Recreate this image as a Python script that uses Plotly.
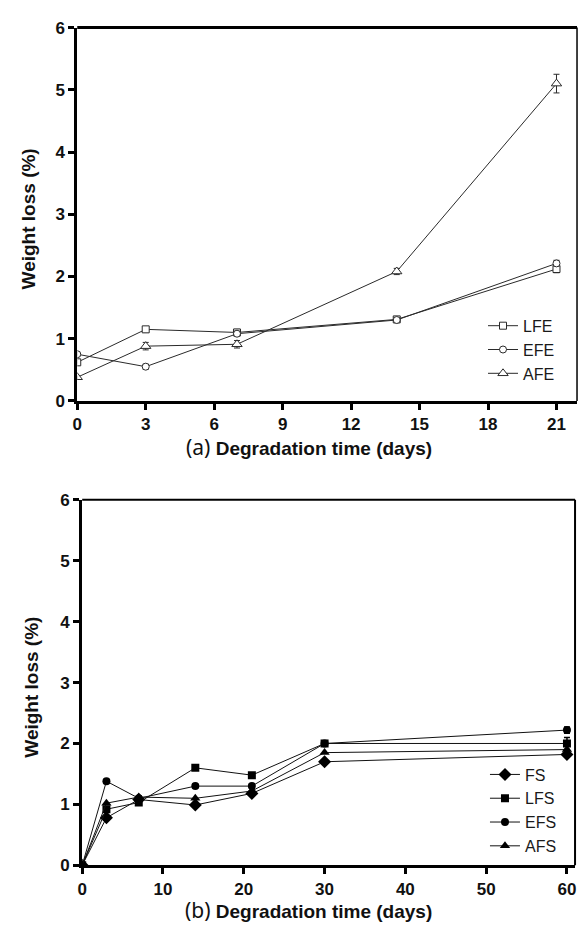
import plotly.graph_objects as go

# ---- Data: panel (a) ----
days_a = [0, 3, 7, 14, 21]
lfe = [0.62, 1.15, 1.10, 1.31, 2.12]
efe = [0.75, 0.55, 1.08, 1.30, 2.21]
afe = [0.38, 0.88, 0.91, 2.08, 5.10]
lfe_err = [0.03, 0.04, 0.05, 0.04, 0.06]
efe_err = [0.03, 0.04, 0.04, 0.04, 0.05]
afe_err = [0.02, 0.06, 0.06, 0.05, 0.15]

# ---- Data: panel (b) ----
days_b = [0, 3, 7, 14, 21, 30, 60]
fs = [0.0, 0.78, 1.08, 0.99, 1.18, 1.70, 1.82]
lfs = [0.0, 0.92, 1.03, 1.60, 1.48, 2.00, 2.00]
efs = [0.0, 1.38, 1.10, 1.30, 1.30, 2.00, 2.22]
afs = [0.0, 1.02, 1.12, 1.10, 1.22, 1.85, 1.90]
lfs_err = [0.0, 0.03, 0.03, 0.03, 0.03, 0.04, 0.10]
efs_err = [0.0, 0.03, 0.03, 0.03, 0.03, 0.03, 0.05]

x_ticks_a = [0, 3, 6, 9, 12, 15, 18, 21]
x_ticks_b = [0, 10, 20, 30, 40, 50, 60]
y_ticks = [0, 1, 2, 3, 4, 5, 6]

W, H = 580, 938
def px_x(p):
    return p / W
def px_y(p):
    return 1 - p / H

LINE_A = "#2a2a2a"
FONT = "Liberation Sans, Arial, sans-serif"

fig = go.Figure()

def open_trace(name, y, err, symbol, size):
    fig.add_trace(go.Scatter(
        x=days_a, y=y, name=name, mode="lines+markers",
        line=dict(color=LINE_A, width=1),
        marker=dict(symbol=symbol, size=size, color="white",
                    line=dict(color=LINE_A, width=1)),
        error_y=dict(type="data", array=err, visible=True, color=LINE_A,
                     thickness=1, width=3),
        xaxis="x", yaxis="y", legend="legend"))

open_trace("LFE", lfe, lfe_err, "square", 7)
open_trace("EFE", efe, efe_err, "circle", 7)
open_trace("AFE", afe, afe_err, "triangle-up", 9)

def filled_trace(name, y, err, symbol, size):
    fig.add_trace(go.Scatter(
        x=days_b, y=y, name=name, mode="lines+markers",
        line=dict(color="#111", width=1),
        marker=dict(symbol=symbol, size=size, color="black"),
        error_y=dict(type="data", array=err, visible=True,
                     color="black", thickness=1.5, width=3) if err else None,
        xaxis="x2", yaxis="y2", legend="legend2"))

filled_trace("FS", fs, None, "diamond", 10)
filled_trace("LFS", lfs, lfs_err, "square", 8)
filled_trace("EFS", efs, efs_err, "circle", 8)
filled_trace("AFS", afs, None, "triangle-up", 9)

tickfont = dict(family=FONT, size=17, color="#111", weight="bold")
axis_common = dict(showline=True, linecolor="black", linewidth=3,
                   ticks="outside", ticklen=6, tickwidth=2.5, tickcolor="black",
                   showgrid=False, zeroline=False, tickfont=tickfont)

# panel geometry in pixels
a_l, a_r, a_t, a_b = 73, 578, 19, 400
b_l, b_r, b_t, b_b = 78, 576, 501, 874

fig.update_layout(
    width=W, height=H,
    margin=dict(l=0, r=0, t=0, b=0),
    paper_bgcolor="white", plot_bgcolor="white",
    xaxis=dict(domain=[px_x(a_l), px_x(a_r)], range=[0, 21.9],
               tickvals=x_ticks_a, anchor="y", **axis_common),
    yaxis=dict(domain=[px_y(a_b), px_y(a_t)], range=[0, 6],
               tickvals=y_ticks, anchor="x", **axis_common),
    xaxis2=dict(domain=[px_x(b_l), px_x(b_r)], range=[0, 61],
                tickvals=x_ticks_b, anchor="y2", **axis_common),
    yaxis2=dict(domain=[px_y(b_b), px_y(b_t)], range=[0, 6],
                tickvals=y_ticks, anchor="x2", **axis_common),
    showlegend=True,
    legend=dict(x=px_x(483), y=px_y(306), xanchor="left", yanchor="top",
                bgcolor="rgba(0,0,0,0)", borderwidth=0,
                font=dict(family=FONT, size=16, color="#1a1a1a"),
                tracegroupgap=0),
    legend2=dict(x=px_x(485), y=px_y(764), xanchor="left", yanchor="top",
                 bgcolor="rgba(0,0,0,0)", borderwidth=0,
                 font=dict(family=FONT, size=16, color="#1a1a1a"),
                 tracegroupgap=0),
)

# frame (top / right borders)
fig.add_shape(type="line", xref="x domain", yref="y domain", x0=0, x1=1, y0=1, y1=1,
              line=dict(color="black", width=3))
fig.add_shape(type="line", xref="x domain", yref="y domain", x0=1, x1=1, y0=0, y1=1,
              line=dict(color="black", width=1.5))
fig.add_shape(type="line", xref="x2 domain", yref="y2 domain", x0=0, x1=1, y0=1, y1=1,
              line=dict(color="black", width=2))
fig.add_shape(type="line", xref="x2 domain", yref="y2 domain", x0=1, x1=1, y0=0, y1=1,
              line=dict(color="black", width=2))

title_font = dict(family=FONT, size=19, color="#111", weight="bold")
fig.add_annotation(text="Weight loss (%)", textangle=-90, x=px_x(24), y=px_y(214),
                   xref="paper", yref="paper", xanchor="center", yanchor="middle",
                   showarrow=False, font=title_font)
fig.add_annotation(text="Weight loss (%)", textangle=-90, x=px_x(27), y=px_y(692),
                   xref="paper", yref="paper", xanchor="center", yanchor="middle",
                   showarrow=False, font=title_font)

def xtitle(letter, y):
    fig.add_annotation(
        text=f"<span style='font-family:Noto Sans; font-weight:normal; font-size:21px'>({letter})</span> Degradation time (days)",
        x=px_x(307), y=px_y(y), xref="paper", yref="paper",
        xanchor="center", yanchor="middle", showarrow=False,
        font=dict(family=FONT, size=19, color="#111", weight="bold"))

xtitle("a", 447)
xtitle("b", 920)

fig.write_html("out.html")
